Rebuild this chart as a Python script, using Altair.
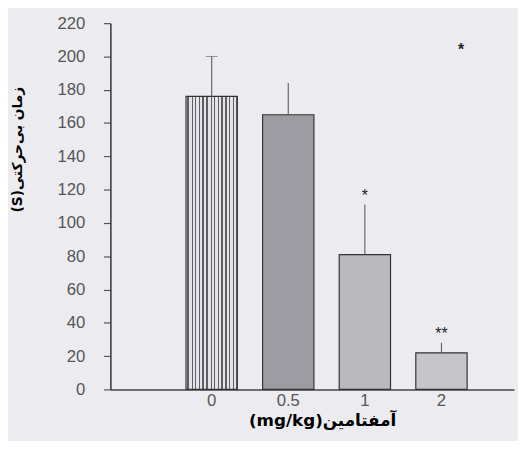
import altair as alt
import pandas as pd

doses = ["0", "0.5", "1", "2"]
means = [176, 165, 81, 22]
err_top = [200, 184, 111, 28]
sig_marks = ["", "", "*", "**"]
sig_pos = [0, 0, 116, 33]
bar_fills = ["#e4e4e8", "#9c9ca2", "#b9b9be", "#c6c6ca"]
stray_dose = ["2"]
stray_val = [204]
stray_text = ["*"]
y_ticks = [0, 20, 40, 60, 80, 100, 120, 140, 160, 180, 200, 220]

df = pd.DataFrame({"dose": doses, "mean": means, "err": err_top,
                   "sig": sig_marks, "sigy": sig_pos, "fill": bar_fills})
stray = pd.DataFrame({"dose": stray_dose, "v": stray_val, "t": stray_text})

xscale = alt.Scale(domain=doses, paddingInner=0.33, paddingOuter=0.8, align=0.617)
yscale = alt.Scale(domain=[0, 220], nice=False)

x_axis = alt.Axis(title="(mg/kg)آمفتامین", labelAngle=0, ticks=False,
                  labelPadding=3, labelFontSize=17, labelColor="#555",
                  labelFont="Liberation Sans", domainColor="#444",
                  domainWidth=1.5, titleFont="DejaVu Sans",
                  titleFontSize=17, titleFontWeight="bold",
                  titleColor="#000", titlePadding=5, titleX=215)
y_axis = alt.Axis(title="(S)زمان بی‌حرکتی", values=y_ticks,
                  labelOverlap=False, grid=False, ticks=True,
                  tickSize=7, tickColor="#555", tickWidth=1.2,
                  labelPadding=19, labelFontSize=17, labelColor="#555",
                  labelFont="Liberation Sans", domainColor="#333",
                  domainWidth=1.5, titleFont="DejaVu Sans",
                  titleFontSize=14, titleFontWeight="bold",
                  titleColor="#000", titleX=-94, titleY=128,
                  titleAlign="center", titleBaseline="middle")


def X():
    return alt.X("dose:N", scale=xscale, sort=doses, axis=x_axis)


def Y(field):
    return alt.Y(field, scale=yscale, axis=y_axis)


base = alt.Chart(df)

stripe_centers = [0.04, 0.12, 0.19, 0.27, 0.33, 0.41, 0.49, 0.55, 0.63, 0.70, 0.78, 0.85, 0.93, 0.98]
stops = [{"offset": 0, "color": "#e4e4e8"}]
for c in stripe_centers:
    stops += [{"offset": c - 0.012, "color": "#e4e4e8"},
              {"offset": c - 0.012, "color": "#5e5e66"},
              {"offset": c + 0.012, "color": "#5e5e66"},
              {"offset": c + 0.012, "color": "#e4e4e8"}]
stops.append({"offset": 1, "color": "#e4e4e8"})

bar0 = base.transform_filter(alt.datum.dose == "0").mark_bar(
    fill={"gradient": "linear", "x1": 0, "x2": 1, "y1": 0, "y2": 0, "stops": stops},
    stroke="#333", strokeWidth=1.2).encode(x=X(), y=Y("mean:Q"))

bars = base.transform_filter(alt.datum.dose != "0").mark_bar(
    stroke="#333", strokeWidth=1.2).encode(
    x=X(), y=Y("mean:Q"),
    fill=alt.Fill("fill:N", scale=None))

errs = base.mark_rule(color="#666", strokeWidth=1.2).encode(
    x=X(), y=Y("mean:Q"), y2="err:Q")

cap = base.transform_filter(alt.datum.dose == "0").mark_tick(
    orient="horizontal", size=12, thickness=1, color="#666").encode(
    x=X(), y=Y("err:Q"))

sig = base.transform_filter(alt.datum.sig != "").mark_text(
    fontSize=16, color="#222", baseline="middle", font="Liberation Sans").encode(
    x=X(), y=Y("sigy:Q"), text="sig:N")

stray_txt = alt.Chart(stray).mark_text(
    fontSize=16, fontWeight="bold", color="#222", dx=20, baseline="middle").encode(
    x=X(), y=Y("v:Q"), text="t:N")

chart = alt.layer(bar0, bars, errs, cap, sig, stray_txt).properties(
    width=410, height=372,
    autosize=alt.AutoSizeParams(type="none"),
    padding={"left": 104, "top": 12, "right": 4, "bottom": 49},
    background="#ececf0",
).configure_view(stroke=None)

chart.save("out.html", embed_options={"renderer": "svg", "actions": False})
